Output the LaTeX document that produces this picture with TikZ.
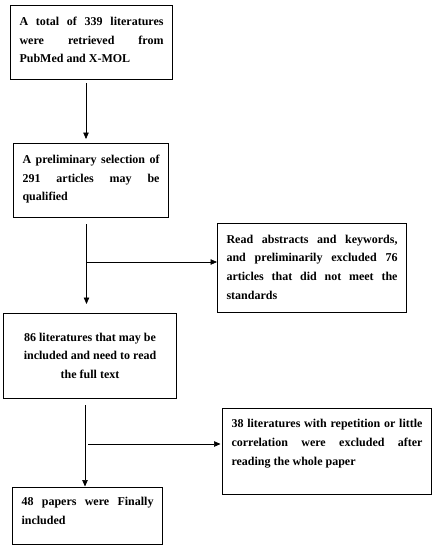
\documentclass[tikz,border=0pt]{standalone}
\usepackage{fontspec}
\setmainfont{Liberation Serif}
\usetikzlibrary{arrows.meta,calc}
\tolerance=10000 \hbadness=10000 \hyphenpenalty=10000
\newcommand\boxtext[5]{\parbox[c][#2pt][t]{#1pt}{\fontsize{12}{18.7}\bfseries#5\vspace*{\dimexpr#3pt-9pt\relax}\rule{0pt}{9pt}#4}}
\begin{document}
\begin{tikzpicture}[x=1pt,y=1pt,
  box/.style={draw=black, line width=1.1pt, inner ysep=0pt, inner xsep=9pt, anchor=north west},
  arr/.style={draw=black, line width=0.7pt, -{Triangle[length=6.5pt,width=5.5pt]}}]
\useasboundingbox (0,0) rectangle (435,-550);
\node[box] (b1) at (10,-5) {\boxtext{144}{74}{20}{A total of 339 literatures\linebreak were retrieved from\linebreak PubMed and X-MOL}{}};
\node[box] (b2) at (13,-143) {\boxtext{137}{74}{20}{A preliminary selection of\linebreak 291 articles may be\linebreak qualified}{}};
\node[box] (b3) at (217,-223) {\boxtext{171}{89}{19.7}{Read abstracts and keywords,\linebreak and preliminarily excluded 76\linebreak articles that did not meet the\linebreak standards}{}};
\node[box] (b4) at (3,-313) {\boxtext{155}{85}{27.5}{86 literatures that may be\\ included and need to read\\ the full text}{\centering}};
\node[box] (b5) at (222,-408) {\boxtext{191}{86}{19.3}{38 literatures with repetition or little\linebreak correlation were excluded after\linebreak reading the whole paper}{}};
\node[box] (b6) at (12,-487) {\boxtext{132}{57}{18}{48 papers were Finally\linebreak included}{}};
\coordinate (x1) at (86,0);
\coordinate (x2) at (86.5,0);
\coordinate (x3) at (85,0);
\coordinate (j1) at (86.5,-262);
\coordinate (j2) at (88,-444);
\draw[arr, shorten <=3pt, shorten >=4pt] (b1.south -| x1) -- (b2.north -| x1);
\draw[arr, shorten <=6pt, shorten >=9pt] (b2.south -| x2) -- (b4.north -| x2);
\draw[arr] (j1) -- (j1 -| b3.west);
\draw[arr, shorten <=6pt, shorten >=0.5pt] (b4.south -| x3) -- (b6.north -| x3);
\draw[arr, shorten >=1.5pt] (j2) -- (j2 -| b5.west);
\end{tikzpicture}
\end{document}
